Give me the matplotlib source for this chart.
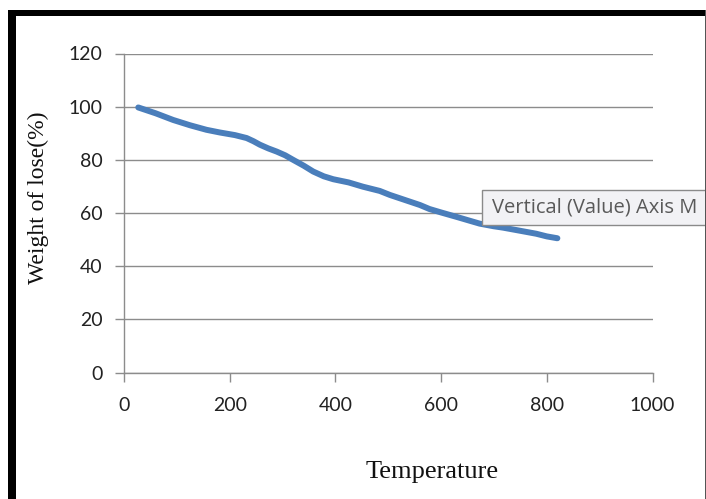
import matplotlib
matplotlib.use("Agg")
import matplotlib.pyplot as plt
from matplotlib.patches import Rectangle

temperature = [27, 60, 93, 125, 156, 181, 210, 232, 245, 257, 273, 289, 305, 320,
               340, 358, 378, 396, 425, 452, 484, 503, 530, 560, 578, 600, 630,
               654, 673, 700, 717, 750, 780, 800, 820]
weight = [99.7, 97.5, 95.0, 93.0, 91.3, 90.3, 89.3, 88.2, 87.0, 85.7, 84.3, 83.1,
          81.7, 80.0, 77.8, 75.6, 73.8, 72.7, 71.5, 69.9, 68.3, 66.8, 65.0, 63.0,
          61.5, 60.2, 58.5, 57.1, 56.0, 55.0, 54.5, 53.3, 52.2, 51.2, 50.5]
x_ticks = [0, 200, 400, 600, 800, 1000]
y_ticks = [0, 20, 40, 60, 80, 100, 120]

W, H = 706, 499
fig = plt.figure(figsize=(W / 100, H / 100), dpi=100)
fig.patch.set_facecolor("white")

def fx(px):
    return px / W

def fy(py):
    return 1 - py / H

ax = fig.add_axes([fx(124), fy(372.5), fx(652.5) - fx(124), fy(53.5) - fy(372.5)])
ax.set_xlim(0, 1000)
ax.set_ylim(0, 120)
ax.set_xticks(x_ticks)
ax.set_yticks(y_ticks)
ax.set_xticklabels([str(t) for t in x_ticks])
ax.set_yticklabels([str(t) for t in y_ticks])

grid_c = "#8c8c8c"
for s in ["top", "right"]:
    ax.spines[s].set_visible(False)
for s in ["left", "bottom"]:
    ax.spines[s].set_color(grid_c)
    ax.spines[s].set_linewidth(1.0)
ax.yaxis.grid(True, color=grid_c, linewidth=1.0)
ax.set_axisbelow(True)
ax.tick_params(axis="both", direction="out", length=6.5, width=1.0, color=grid_c,
               labelsize=14, labelcolor="#222222")
ax.tick_params(axis="y", pad=9)
ax.tick_params(axis="x", pad=11)
for lab in ax.get_xticklabels() + ax.get_yticklabels():
    lab.set_fontfamily("Lato")

ax.plot(temperature, weight, color="#4A7EBB", linewidth=4.3,
        solid_capstyle="round", solid_joinstyle="round", zorder=3)

fig.text(fx(38), fy(198), "Weight of lose(%)", rotation=90, ha="center", va="center",
         fontsize=17, fontfamily="Liberation Serif", color="#111111")
fig.text(fx(432), fy(472), "Temperature", ha="center", va="center",
         fontsize=19, fontfamily="Liberation Serif", color="#111111")

# tooltip box
fig.patches.append(Rectangle((fx(482), fy(225)), fx(730) - fx(482), fy(190) - fy(225),
                             transform=fig.transFigure, facecolor="#f2f2f5",
                             edgecolor="#8a8a8a", linewidth=1.0, zorder=5))
fig.text(fx(492), fy(208), "Vertical (Value) Axis M", ha="left", va="center",
         fontsize=14.5, fontfamily="Open Sans", color="#595959", zorder=6)

# black frame
fig.patches.append(Rectangle((fx(8), 0), fx(16) - fx(8), fy(10), transform=fig.transFigure,
                             facecolor="black", edgecolor="none", zorder=10))
fig.patches.append(Rectangle((fx(8), fy(16)), 1 - fx(8), fy(10) - fy(16),
                             transform=fig.transFigure, facecolor="black",
                             edgecolor="none", zorder=10))
fig.patches.append(Rectangle((fx(704.5), 0), fx(1.5), fy(10), transform=fig.transFigure,
                             facecolor="#555555", edgecolor="none", zorder=10))

fig.savefig("out.png", dpi=100)
